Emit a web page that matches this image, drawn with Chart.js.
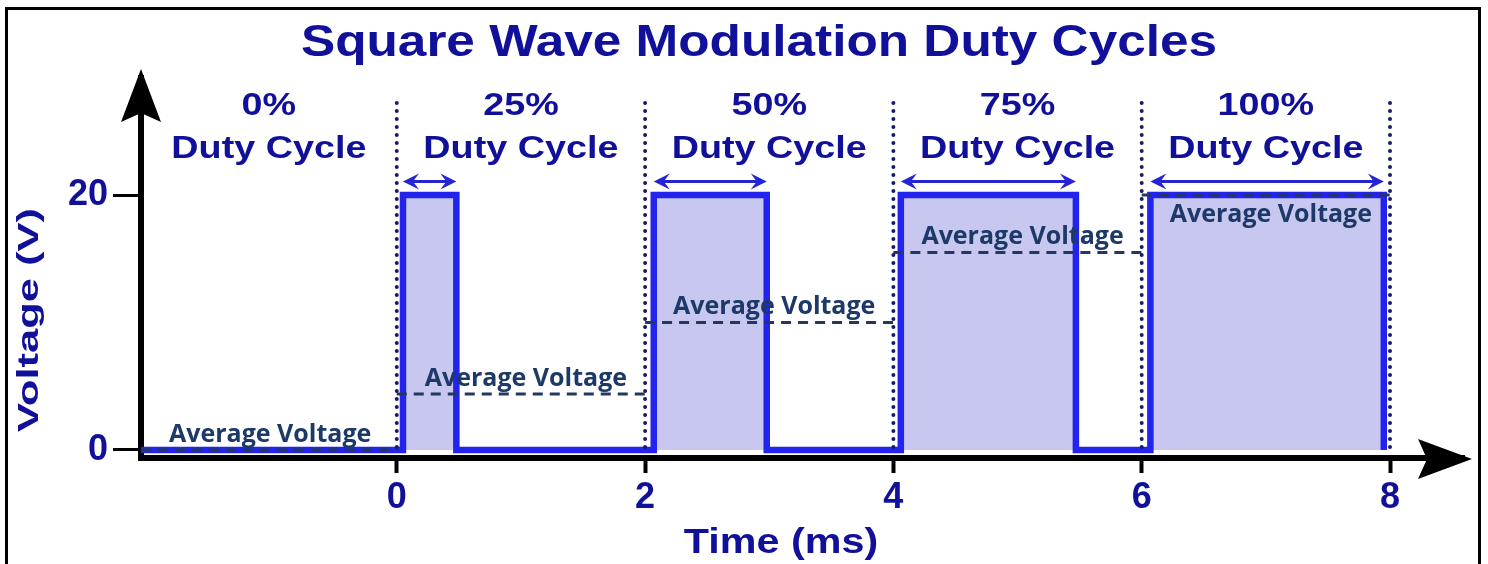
<!DOCTYPE html>
<html>
<head>
<meta charset="utf-8">
<script src="https://cdn.jsdelivr.net/npm/chart.js@4.4.1/dist/chart.umd.min.js"></script>
<style>
  html, body { margin: 0; padding: 0; background: #ffffff; }
  #wrap { width: 1488px; height: 564px; }
</style>
</head>
<body>
<div id="wrap"><canvas id="chart" width="1488" height="564"></canvas></div>
<script>
// Time segments (ms): the first segment runs from the left end of the time axis
const segmentBounds = [-2.06, 0, 2, 4, 6, 8];
const dutyLabels = ['0%', '25%', '50%', '75%', '100%'];
// Rising and falling edge of the pulse inside each segment (ms); none for 0 %
const pulseStart = [null, 0.05, 2.07, 4.06, 6.07];
const pulseEnd = [null, 0.48, 2.98, 5.47, 7.95];
const highVoltage = 20;
const lowVoltage = 0;
// Average voltage of each segment (V)
const avgVoltage = [0, 4.4, 10, 15.5, 20];
const avgLabelSide = ['above', 'above', 'above', 'above', 'below'];
const xTicks = [0, 2, 4, 6, 8];
const yTicks = [0, 20];

const NAVY = '#10109a';
const WAVE = '#2323ee';
const FILL = '#c7c7ef';
const AVG = '#22385e';
const AVG_TEXT = '#1c3968';
const SANS = '"Liberation Sans", Arial, sans-serif';

// Square wave outline built from the edge times
const wavePoints = [{ x: segmentBounds[0], y: lowVoltage }];
for (let i = 0; i < pulseStart.length; i++) {
  if (pulseStart[i] === null) continue;
  wavePoints.push({ x: pulseStart[i], y: lowVoltage });
  wavePoints.push({ x: pulseStart[i], y: highVoltage });
  wavePoints.push({ x: pulseEnd[i], y: highVoltage });
  wavePoints.push({ x: pulseEnd[i], y: lowVoltage });
}

// Dashed average level for each segment, separated by gaps
const avgPoints = [];
for (let i = 0; i < avgVoltage.length; i++) {
  avgPoints.push({ x: segmentBounds[i], y: avgVoltage[i] });
  avgPoints.push({ x: segmentBounds[i + 1], y: avgVoltage[i] });
  avgPoints.push({ x: segmentBounds[i + 1], y: null });
}

function stretchedText(ctx, text, x, y, sx, align) {
  ctx.save();
  ctx.translate(x, y);
  ctx.scale(sx, 1);
  ctx.textAlign = align || 'center';
  ctx.fillText(text, 0, 0);
  ctx.restore();
}

function arrowHead(ctx, tipX, tipY, dirX, dirY, len, half, notch) {
  const px = -dirY, py = dirX;
  ctx.beginPath();
  ctx.moveTo(tipX, tipY);
  ctx.lineTo(tipX - dirX * len + px * half, tipY - dirY * len + py * half);
  ctx.lineTo(tipX - dirX * (len - notch), tipY - dirY * (len - notch));
  ctx.lineTo(tipX - dirX * len - px * half, tipY - dirY * len - py * half);
  ctx.closePath();
  ctx.fill();
}

const decorations = {
  id: 'decorations',
  afterDatasetsDraw(chart) {
    const ctx = chart.ctx;
    const xs = chart.scales.x, ys = chart.scales.y;
    const area = chart.chartArea;
    const y0 = ys.getPixelForValue(lowVoltage);
    const yHigh = ys.getPixelForValue(highVoltage);

    // dotted segment boundaries
    ctx.save();
    ctx.strokeStyle = '#1a1a66';
    ctx.lineWidth = 4;
    ctx.lineCap = 'round';
    ctx.setLineDash([0, 8]);
    for (let i = 1; i < segmentBounds.length; i++) {
      const px = xs.getPixelForValue(segmentBounds[i]);
      ctx.beginPath();
      ctx.moveTo(px, area.top + 25);
      ctx.lineTo(px, y0);
      ctx.stroke();
    }
    ctx.restore();

    // pulse width arrows
    ctx.save();
    ctx.strokeStyle = '#2424d4';
    ctx.fillStyle = '#2424d4';
    ctx.lineWidth = 2.8;
    const ya = yHigh - 13.5;
    for (let i = 0; i < pulseStart.length; i++) {
      if (pulseStart[i] === null) continue;
      const a = xs.getPixelForValue(pulseStart[i]);
      const b = xs.getPixelForValue(pulseEnd[i]);
      ctx.beginPath();
      ctx.moveTo(a + 6, ya);
      ctx.lineTo(b - 6, ya);
      ctx.stroke();
      arrowHead(ctx, a, ya, -1, 0, 16, 8, 6);
      arrowHead(ctx, b, ya, 1, 0, 16, 8, 6);
    }
    ctx.restore();

    // "Average Voltage" captions
    ctx.save();
    ctx.fillStyle = AVG_TEXT;
    ctx.font = 'bold 25px "Open Sans", sans-serif';
    ctx.textBaseline = 'alphabetic';
    for (let i = 0; i < avgVoltage.length; i++) {
      const lx = xs.getPixelForValue(segmentBounds[i]) + 28;
      const ly = ys.getPixelForValue(avgVoltage[i]);
      const by = avgLabelSide[i] === 'above' ? ly - 8 : ly + 27;
      stretchedText(ctx, 'Average Voltage', lx, by, 1.0, 'left');
    }
    ctx.restore();

    // duty cycle headings
    ctx.save();
    ctx.fillStyle = NAVY;
    ctx.font = 'bold 32px ' + SANS;
    ctx.textBaseline = 'alphabetic';
    for (let i = 0; i < dutyLabels.length; i++) {
      const cx = xs.getPixelForValue((segmentBounds[i] + segmentBounds[i + 1]) / 2);
      stretchedText(ctx, dutyLabels[i], cx, area.top + 37, 1.18);
      stretchedText(ctx, 'Duty Cycle', cx, area.top + 80, 1.18);
    }
    ctx.restore();
  },
  afterDraw(chart) {
    const ctx = chart.ctx;
    const area = chart.chartArea;
    ctx.save();
    // axis arrow heads
    ctx.fillStyle = '#000';
    arrowHead(ctx, area.left, area.top - 9, 0, -1, 53, 20, 9);
    arrowHead(ctx, area.right + 8, area.bottom + 1, 1, 0, 54, 20, 9);

    // title and axis titles
    ctx.fillStyle = NAVY;
    ctx.textBaseline = 'alphabetic';
    ctx.font = 'bold 44px ' + SANS;
    stretchedText(ctx, 'Square Wave Modulation Duty Cycles', 759, 56, 1.166);
    ctx.font = 'bold 35px ' + SANS;
    stretchedText(ctx, 'Time (ms)', 781, 553, 1.18);
    ctx.save();
    ctx.translate(30, 320);
    ctx.rotate(-Math.PI / 2);
    ctx.font = 'bold 30px ' + SANS;
    ctx.textBaseline = 'middle';
    stretchedText(ctx, 'Voltage (V)', 0, 0, 1.45);
    ctx.restore();

    // outer frame
    ctx.strokeStyle = '#000';
    ctx.lineWidth = 3;
    ctx.strokeRect(6.5, 8.5, 1473, 600);
    ctx.restore();
  }
};

const tickFont = { family: SANS, weight: 'bold', size: 36 };

new Chart(document.getElementById('chart'), {
  type: 'line',
  data: {
    datasets: [
      {
        label: 'Average voltage',
        data: avgPoints,
        borderColor: AVG,
        borderWidth: 3,
        borderDash: [10, 7],
        pointRadius: 0,
        spanGaps: false,
        fill: false,
        order: 0
      },
      {
        label: 'Square wave',
        data: wavePoints,
        borderColor: WAVE,
        backgroundColor: FILL,
        borderWidth: 6.5,
        borderJoinStyle: 'miter',
        pointRadius: 0,
        tension: 0,
        fill: 'origin',
        order: 1
      }
    ]
  },
  options: {
    responsive: false,
    animation: false,
    devicePixelRatio: 1,
    layout: { padding: { top: 78, right: 24, left: 0, bottom: 0 } },
    plugins: {
      legend: { display: false },
      tooltip: { enabled: false },
      title: { display: false }
    },
    scales: {
      x: {
        type: 'linear',
        min: -2.06,
        max: 8.596,
        afterBuildTicks: s => { s.ticks = xTicks.map(v => ({ value: v })); },
        afterFit: s => { s.height = 106; },
        ticks: { font: tickFont, color: NAVY, padding: 3, maxRotation: 0, autoSkip: false },
        grid: { drawOnChartArea: false, drawTicks: true, tickLength: 15, tickWidth: 4, tickColor: '#000' },
        border: { display: true, color: '#000', width: 6 }
      },
      y: {
        type: 'linear',
        min: -0.63,
        max: 29.18,
        afterBuildTicks: s => { s.ticks = yTicks.map(v => ({ value: v })); },
        afterFit: s => { s.width = 141; },
        ticks: { font: tickFont, color: NAVY, padding: 5 },
        grid: { drawOnChartArea: false, drawTicks: true, tickLength: 28, tickWidth: 3, tickColor: '#000' },
        border: { display: true, color: '#000', width: 6 }
      }
    }
  },
  plugins: [decorations]
});
</script>
</body>
</html>
